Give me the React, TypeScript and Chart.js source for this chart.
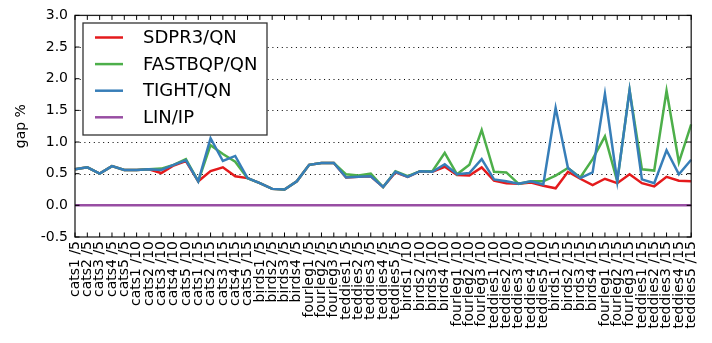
import React, { useEffect, useRef } from "react";
import { Chart, registerables } from "chart.js";

Chart.register(...registerables);

const categories: string[] = [
  "cats1 /5", "cats2 /5", "cats3 /5", "cats4 /5", "cats5 /5",
  "cats1 /10", "cats2 /10", "cats3 /10", "cats4 /10", "cats5 /10",
  "cats1 /15", "cats2 /15", "cats3 /15", "cats4 /15", "cats5 /15",
  "birds1 /5", "birds2 /5", "birds3 /5", "birds4 /5",
  "fourleg1 /5", "fourleg2 /5", "fourleg3 /5",
  "teddies1 /5", "teddies2 /5", "teddies3 /5", "teddies4 /5", "teddies5 /5",
  "birds1 /10", "birds2 /10", "birds3 /10", "birds4 /10",
  "fourleg1 /10", "fourleg2 /10", "fourleg3 /10",
  "teddies1 /10", "teddies2 /10", "teddies3 /10", "teddies4 /10", "teddies5 /10",
  "birds1 /15", "birds2 /15", "birds3 /15", "birds4 /15",
  "fourleg1 /15", "fourleg2 /15", "fourleg3 /15",
  "teddies1 /15", "teddies2 /15", "teddies3 /15", "teddies4 /15", "teddies5 /15",
];

const sdpr3: number[] = [
  0.57, 0.60, 0.50, 0.62, 0.56, 0.56, 0.57, 0.51, 0.63, 0.70,
  0.38, 0.54, 0.60, 0.46, 0.43, 0.35, 0.26, 0.25, 0.38, 0.64,
  0.67, 0.67, 0.44, 0.45, 0.46, 0.29, 0.52, 0.45, 0.54, 0.53,
  0.61, 0.48, 0.47, 0.60, 0.39, 0.35, 0.34, 0.36, 0.31, 0.27,
  0.53, 0.42, 0.32, 0.42, 0.35, 0.49, 0.35, 0.30, 0.45, 0.39, 0.38,
];

const fastbqp: number[] = [
  0.57, 0.60, 0.50, 0.62, 0.56, 0.56, 0.57, 0.58, 0.64, 0.73,
  0.38, 0.95, 0.81, 0.69, 0.43, 0.35, 0.26, 0.25, 0.38, 0.64,
  0.67, 0.67, 0.49, 0.47, 0.50, 0.29, 0.54, 0.46, 0.54, 0.54,
  0.83, 0.49, 0.64, 1.19, 0.53, 0.52, 0.34, 0.38, 0.38, 0.47,
  0.59, 0.44, 0.73, 1.09, 0.38, 1.82, 0.57, 0.55, 1.81, 0.68, 1.28,
];

const tight: number[] = [
  0.57, 0.60, 0.50, 0.62, 0.56, 0.56, 0.57, 0.56, 0.64, 0.71,
  0.38, 1.06, 0.70, 0.78, 0.43, 0.35, 0.26, 0.25, 0.38, 0.64,
  0.67, 0.67, 0.44, 0.45, 0.46, 0.29, 0.53, 0.45, 0.54, 0.53,
  0.65, 0.49, 0.51, 0.73, 0.41, 0.38, 0.34, 0.38, 0.33, 1.54,
  0.59, 0.43, 0.52, 1.76, 0.38, 1.82, 0.41, 0.35, 0.87, 0.49, 0.72,
];

const linip: number[] = [
  0, 0, 0, 0, 0, 0, 0, 0, 0, 0,
  0, 0, 0, 0, 0, 0, 0, 0, 0, 0,
  0, 0, 0, 0, 0, 0, 0, 0, 0, 0,
  0, 0, 0, 0, 0, 0, 0, 0, 0, 0,
  0, 0, 0, 0, 0, 0, 0, 0, 0, 0, 0,
];

const seriesNames: string[] = ["SDPR3/QN", "FASTBQP/QN", "TIGHT/QN", "LIN/IP"];
const seriesColors: string[] = ["#e41a1c", "#4daf4a", "#377eb8", "#984ea3"];
const yTicks: number[] = [-0.5, 0.0, 0.5, 1.0, 1.5, 2.0, 2.5, 3.0];
const yTitle = "gap %";

const FONT = "'DejaVu Sans', sans-serif";

const framePlugin = {
  id: "frame",
  beforeDatasetsDraw(chart: any) {
    const { ctx, chartArea } = chart;
    const y = chart.scales.y;
    ctx.save();
    ctx.strokeStyle = "#000";
    ctx.lineWidth = 1;
    ctx.setLineDash([1, 3.7]);
    for (const v of yTicks) {
      if (v <= -0.5 || v >= 3.0) continue;
      const py = Math.round(y.getPixelForValue(v)) + 0.5;
      ctx.beginPath();
      ctx.moveTo(chartArea.left, py);
      ctx.lineTo(chartArea.right, py);
      ctx.stroke();
    }
    ctx.restore();
  },
  afterDraw(chart: any) {
    const { ctx, chartArea } = chart;
    const x = chart.scales.x;
    const y = chart.scales.y;
    const { left, right, top, bottom } = chartArea;
    ctx.save();
    ctx.strokeStyle = "#222";
    ctx.lineWidth = 1.3;
    ctx.setLineDash([]);
    ctx.strokeRect(left, top, right - left, bottom - top);
    const tl = 4.5;
    ctx.lineWidth = 1;
    ctx.strokeStyle = "#000";
    for (const v of yTicks) {
      const py = y.getPixelForValue(v);
      ctx.beginPath();
      ctx.moveTo(left, py);
      ctx.lineTo(left + tl, py);
      ctx.moveTo(right, py);
      ctx.lineTo(right - tl, py);
      ctx.stroke();
    }
    for (let i = 0; i < categories.length; i++) {
      const px = x.getPixelForValue(i);
      ctx.beginPath();
      ctx.moveTo(px, bottom);
      ctx.lineTo(px, bottom - tl);
      ctx.moveTo(px, top);
      ctx.lineTo(px, top + tl);
      ctx.stroke();
    }
    // y title
    ctx.fillStyle = "#000";
    ctx.font = `14px ${FONT}`;
    ctx.textAlign = "center";
    ctx.textBaseline = "middle";
    ctx.save();
    ctx.translate(21, (top + bottom) / 2);
    ctx.rotate(-Math.PI / 2);
    ctx.fillText(yTitle, 0, 0);
    ctx.restore();
    // legend
    const bx = 83, by = 23, bw = 184, bh = 112;
    ctx.fillStyle = "#fff";
    ctx.fillRect(bx, by, bw, bh);
    ctx.strokeStyle = "#333";
    ctx.lineWidth = 1.3;
    ctx.strokeRect(bx, by, bw, bh);
    ctx.font = `18px ${FONT}`;
    ctx.textAlign = "left";
    ctx.textBaseline = "middle";
    for (let k = 0; k < seriesNames.length; k++) {
      const ly = 37.5 + k * 26.6;
      ctx.strokeStyle = seriesColors[k];
      ctx.lineWidth = 2.5;
      ctx.beginPath();
      ctx.moveTo(95, ly);
      ctx.lineTo(123, ly);
      ctx.stroke();
      ctx.fillStyle = "#000";
      ctx.fillText(seriesNames[k], 143, ly + 1);
    }
    ctx.restore();
  },
};

export default function App() {
  const ref = useRef<HTMLCanvasElement | null>(null);
  useEffect(() => {
    if (!ref.current) return;
    const seriesData = [sdpr3, fastbqp, tight, linip];
    const orders = [3, 2, 1, 0];
    const chart = new Chart(ref.current, {
      type: "line",
      data: {
        labels: categories,
        datasets: seriesNames.map((name, k) => ({
          label: name,
          data: seriesData[k],
          borderColor: seriesColors[k],
          backgroundColor: seriesColors[k],
          borderWidth: 2.5,
          pointRadius: 0,
          tension: 0,
          fill: false,
          order: orders[k],
        })),
      },
      options: {
        responsive: false,
        animation: false,
        devicePixelRatio: 1,
        layout: { padding: { top: 13, right: 14, left: 0, bottom: 0 } },
        plugins: { legend: { display: false }, tooltip: { enabled: false } },
        scales: {
          x: {
            type: "category",
            offset: false,
            grid: { display: false, drawTicks: false },
            border: { display: false },
            ticks: {
              autoSkip: false,
              maxRotation: 90,
              minRotation: 90,
              padding: 4,
              color: "#000",
              font: { family: FONT, size: 14 },
            },
            afterFit: (s: any) => {
              s.height = 106;
            },
          },
          y: {
            min: -0.5,
            max: 3.0,
            grid: { display: false, drawTicks: false },
            border: { display: false },
            ticks: {
              stepSize: 0.5,
              padding: 7,
              color: "#000",
              font: { family: FONT, size: 14 },
              callback: (v: any) => Number(v).toFixed(1),
            },
            afterFit: (s: any) => {
              s.width = 75;
            },
          },
        },
      },
      plugins: [framePlugin],
    });
    return () => chart.destroy();
  }, []);
  return (
    <div style={{ position: "absolute", left: 0, top: 0, width: 712, height: 343, background: "#fff" }}>
      <canvas ref={ref} width={712} height={343} />
    </div>
  );
}
